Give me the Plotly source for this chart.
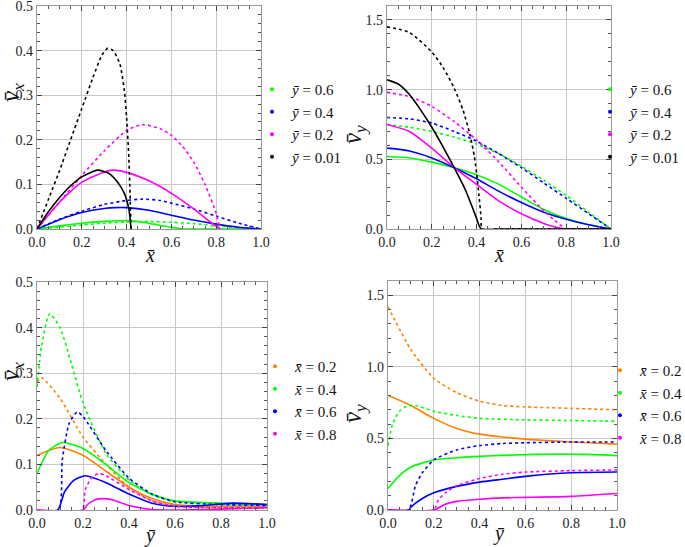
import plotly.graph_objects as go

W, H = 685, 547
GREEN, BLUE, MAGENTA, BLACK, ORANGE = "#00ff00", "#0000ff", "#ff00ff", "#000000", "#ff8000"

# ---------- Panel 1: v_x vs x̄ ----------
p1_leg = ["<i>ȳ</i> = 0.6", "<i>ȳ</i> = 0.4", "<i>ȳ</i> = 0.2", "<i>ȳ</i> = 0.01"]
p1_g_sol_x = [0, 0.1, 0.2, 0.3, 0.4, 0.45, 0.5, 0.55, 0.6, 0.65, 0.8, 1.0]
p1_g_sol_v = [0, 0.007, 0.013, 0.017, 0.019, 0.017, 0.013, 0.008, 0.004, 0.0, 0.0, 0.0]
p1_g_dot_x = [0, 0.1, 0.2, 0.3, 0.4, 0.5, 0.6, 0.7, 0.8, 0.9, 1.0]
p1_g_dot_v = [0, 0.004, 0.009, 0.013, 0.016, 0.017, 0.015, 0.012, 0.007, 0.003, 0]
p1_b_sol_x = [0, 0.1, 0.2, 0.3, 0.35, 0.4, 0.5, 0.6, 0.7, 0.8, 0.9, 1.0]
p1_b_sol_v = [0, 0.021, 0.037, 0.046, 0.048, 0.048, 0.042, 0.031, 0.020, 0.011, 0.004, 0]
p1_b_dot_x = [0, 0.1, 0.2, 0.3, 0.4, 0.47, 0.55, 0.6, 0.7, 0.8, 0.9, 1.0]
p1_b_dot_v = [0, 0.022, 0.040, 0.055, 0.064, 0.067, 0.064, 0.058, 0.045, 0.029, 0.013, 0]
p1_m_sol_x = [0, 0.1, 0.2, 0.3, 0.34, 0.4, 0.5, 0.6, 0.7, 0.75, 0.8, 0.82]
p1_m_sol_v = [0, 0.06, 0.105, 0.128, 0.132, 0.127, 0.108, 0.08, 0.045, 0.025, 0.006, 0]
p1_m_dot_x = [0, 0.1, 0.2, 0.3, 0.4, 0.47, 0.55, 0.6, 0.65, 0.7, 0.75, 0.8, 0.815]
p1_m_dot_v = [0, 0.06, 0.12, 0.175, 0.221, 0.234, 0.225, 0.21, 0.185, 0.15, 0.10, 0.035, 0]
p1_k_sol_x = [0, 0.05, 0.1, 0.15, 0.2, 0.27, 0.32, 0.36, 0.39, 0.41, 0.42]
p1_k_sol_v = [0, 0.038, 0.07, 0.097, 0.117, 0.132, 0.125, 0.105, 0.08, 0.045, 0]
p1_k_dot_x = [0, 0.05, 0.1, 0.15, 0.2, 0.25, 0.29, 0.315, 0.34, 0.37, 0.39, 0.40, 0.41, 0.42]
p1_k_dot_v = [0, 0.065, 0.13, 0.20, 0.27, 0.34, 0.39, 0.405, 0.40, 0.37, 0.31, 0.25, 0.16, 0]

# ---------- Panel 2: v_y vs x̄ ----------
p2_x = [0, 0.1, 0.2, 0.3, 0.4, 0.5, 0.6, 0.7, 0.8, 0.9, 1.0]
p2_g_sol_v = [0.52, 0.51, 0.48, 0.44, 0.39, 0.32, 0.23, 0.14, 0.075, 0.03, 0]
p2_g_dot_v = [0.75, 0.73, 0.70, 0.66, 0.61, 0.54, 0.45, 0.35, 0.24, 0.12, 0]
p2_b_sol_v = [0.58, 0.56, 0.51, 0.44, 0.36, 0.27, 0.19, 0.12, 0.07, 0.03, 0]
p2_b_dot_v = [0.80, 0.79, 0.76, 0.70, 0.63, 0.54, 0.44, 0.33, 0.22, 0.11, 0]
p2_m_x = [0, 0.1, 0.2, 0.3, 0.4, 0.5, 0.6, 0.7, 0.75, 0.8, 0.9, 1.0]
p2_m_sol_v = [0.75, 0.70, 0.58, 0.44, 0.32, 0.20, 0.11, 0.04, 0.015, 0.0, 0.0, 0.0]
p2_m_dot_v = [0.98, 0.95, 0.88, 0.77, 0.64, 0.48, 0.30, 0.13, 0.06, 0.0, 0.0, 0.0]
p2_k_sol_x = [0, 0.05, 0.1, 0.15, 0.2, 0.25, 0.3, 0.35, 0.38, 0.40, 0.42, 0.5, 0.7, 1.0]
p2_k_sol_v = [1.07, 1.04, 0.965, 0.855, 0.73, 0.59, 0.44, 0.28, 0.16, 0.075, 0.0, 0.0, 0.0, 0.0]
p2_k_dot_x = [0, 0.1, 0.2, 0.25, 0.3, 0.34, 0.37, 0.39, 0.40, 0.41, 0.42, 0.424, 0.5, 0.7, 1.0]
p2_k_dot_v = [1.45, 1.41, 1.27, 1.16, 1.01, 0.85, 0.68, 0.52, 0.40, 0.25, 0.08, 0.0, 0.0, 0.0, 0.0]

# ---------- Panel 3: v_x vs ȳ ----------
p3_leg = ["<i>x̄</i> = 0.2", "<i>x̄</i> = 0.4", "<i>x̄</i> = 0.6", "<i>x̄</i> = 0.8"]
p3_x = [0, 0.1, 0.2, 0.3, 0.4, 0.5, 0.6, 0.7, 0.8, 0.9, 1.0]
p3_o_sol_v = [0.12, 0.137, 0.12, 0.085, 0.05, 0.025, 0.012, 0.009, 0.008, 0.008, 0.008]
p3_o_dot_x = [0, 0.02, 0.1, 0.2, 0.3, 0.4, 0.5, 0.6, 0.7, 0.8, 0.9, 1.0]
p3_o_dot_v = [0.28, 0.29, 0.245, 0.16, 0.10, 0.05, 0.02, 0.01, 0.006, 0.005, 0.005, 0.005]
p3_g_sol_x = [0, 0.05, 0.11, 0.2, 0.3, 0.4, 0.5, 0.6, 0.7, 0.8, 0.9, 1.0]
p3_g_sol_v = [0.08, 0.13, 0.148, 0.135, 0.10, 0.06, 0.035, 0.02, 0.017, 0.015, 0.013, 0.012]
p3_g_dot_x = [0, 0.02, 0.055, 0.1, 0.15, 0.2, 0.3, 0.4, 0.5, 0.6, 0.7, 0.8, 0.9, 1.0]
p3_g_dot_v = [0.27, 0.36, 0.43, 0.40, 0.32, 0.235, 0.124, 0.066, 0.033, 0.018, 0.015, 0.012, 0.011, 0.01]
p3_b_sol_x = [0, 0.09, 0.12, 0.16, 0.21, 0.3, 0.4, 0.5, 0.6, 0.7, 0.85, 1.0]
p3_b_sol_v = [0, 0, 0.04, 0.065, 0.075, 0.06, 0.035, 0.015, 0.008, 0.009, 0.015, 0.012]
p3_b_dot_x = [0, 0.094, 0.11, 0.14, 0.175, 0.2, 0.3, 0.4, 0.5, 0.6, 0.8, 1.0]
p3_b_dot_v = [0, 0, 0.11, 0.19, 0.215, 0.205, 0.13, 0.07, 0.035, 0.018, 0.012, 0.01]
p3_m_sol_x = [0, 0.2, 0.22, 0.25, 0.28, 0.33, 0.4, 0.5, 0.6, 0.8, 1.0]
p3_m_sol_v = [0, 0, 0.012, 0.022, 0.025, 0.022, 0.01, 0.001, 0.0, 0.002, 0.005]
p3_m_dot_x = [0, 0.196, 0.21, 0.24, 0.27, 0.3, 0.4, 0.5, 0.6, 0.8, 1.0]
p3_m_dot_v = [0, 0, 0.045, 0.072, 0.08, 0.075, 0.045, 0.02, 0.008, 0.005, 0.005]

# ---------- Panel 4: v_y vs ȳ ----------
p4_x = [0, 0.1, 0.2, 0.3, 0.4, 0.5, 0.6, 0.7, 0.8, 0.9, 1.0]
p4_o_sol_v = [0.80, 0.73, 0.64, 0.57, 0.53, 0.51, 0.495, 0.485, 0.475, 0.468, 0.46]
p4_o_dot_v = [1.42, 1.12, 0.92, 0.82, 0.76, 0.73, 0.72, 0.715, 0.71, 0.705, 0.70]
p4_g_sol_x = [0, 0.05, 0.1, 0.2, 0.3, 0.4, 0.5, 0.6, 0.7, 0.8, 0.9, 1.0]
p4_g_sol_v = [0.15, 0.24, 0.30, 0.35, 0.365, 0.375, 0.382, 0.387, 0.39, 0.39, 0.387, 0.38]
p4_g_dot_x = [0, 0.02, 0.05, 0.08, 0.12, 0.2, 0.3, 0.4, 0.6, 0.8, 1.0]
p4_g_dot_v = [0.45, 0.60, 0.69, 0.725, 0.73, 0.69, 0.66, 0.64, 0.63, 0.625, 0.62]
p4_b_sol_x = [0, 0.09, 0.1, 0.15, 0.2, 0.3, 0.4, 0.5, 0.6, 0.8, 1.0]
p4_b_sol_v = [0, 0, 0.02, 0.08, 0.12, 0.165, 0.195, 0.215, 0.235, 0.26, 0.265]
p4_b_dot_x = [0, 0.09, 0.12, 0.15, 0.2, 0.3, 0.4, 0.5, 0.6, 0.8, 1.0]
p4_b_dot_v = [0, 0, 0.17, 0.26, 0.35, 0.42, 0.45, 0.465, 0.47, 0.475, 0.475]
p4_m_sol_x = [0, 0.2, 0.25, 0.3, 0.4, 0.5, 0.6, 0.8, 1.0]
p4_m_sol_v = [0, 0, 0.04, 0.06, 0.075, 0.085, 0.088, 0.095, 0.115]
p4_m_dot_x = [0, 0.2, 0.22, 0.25, 0.3, 0.4, 0.5, 0.6, 0.8, 1.0]
p4_m_dot_v = [0, 0, 0.07, 0.12, 0.17, 0.22, 0.25, 0.265, 0.275, 0.28]

fig = go.Figure()


def line(x, y, color, dotted, ax):
    fig.add_trace(go.Scatter(
        x=x, y=y, mode="lines", showlegend=False,
        line=dict(color=color, width=1.6, dash="dot" if dotted else "solid",
                  shape="spline", smoothing=0.6),
        xaxis="x" + ax, yaxis="y" + ax, cliponaxis=True))


def legend_entry(name, color, ax, leg):
    fig.add_trace(go.Scatter(
        x=[None], y=[None], mode="markers", name=name, legend=leg,
        marker=dict(color=color, size=4), xaxis="x" + ax, yaxis="y" + ax))


# panel 1
line(p1_g_sol_x, p1_g_sol_v, GREEN, False, "")
line(p1_g_dot_x, p1_g_dot_v, GREEN, True, "")
line(p1_b_sol_x, p1_b_sol_v, BLUE, False, "")
line(p1_b_dot_x, p1_b_dot_v, BLUE, True, "")
line(p1_m_sol_x, p1_m_sol_v, MAGENTA, False, "")
line(p1_m_dot_x, p1_m_dot_v, MAGENTA, True, "")
line(p1_k_sol_x, p1_k_sol_v, BLACK, False, "")
line(p1_k_dot_x, p1_k_dot_v, BLACK, True, "")
for n, c in zip(p1_leg, [GREEN, BLUE, MAGENTA, BLACK]):
    legend_entry(n, c, "", "legend")

# panel 2
line(p2_x, p2_g_sol_v, GREEN, False, "2")
line(p2_x, p2_g_dot_v, GREEN, True, "2")
line(p2_x, p2_b_sol_v, BLUE, False, "2")
line(p2_x, p2_b_dot_v, BLUE, True, "2")
line(p2_m_x, p2_m_sol_v, MAGENTA, False, "2")
line(p2_m_x, p2_m_dot_v, MAGENTA, True, "2")
line(p2_k_sol_x, p2_k_sol_v, BLACK, False, "2")
line(p2_k_dot_x, p2_k_dot_v, BLACK, True, "2")
for n, c in zip(p1_leg, [GREEN, BLUE, MAGENTA, BLACK]):
    legend_entry(n, c, "2", "legend2")

# panel 3
line(p3_x, p3_o_sol_v, ORANGE, False, "3")
line(p3_o_dot_x, p3_o_dot_v, ORANGE, True, "3")
line(p3_g_sol_x, p3_g_sol_v, GREEN, False, "3")
line(p3_g_dot_x, p3_g_dot_v, GREEN, True, "3")
line(p3_b_sol_x, p3_b_sol_v, BLUE, False, "3")
line(p3_b_dot_x, p3_b_dot_v, BLUE, True, "3")
line(p3_m_sol_x, p3_m_sol_v, MAGENTA, False, "3")
line(p3_m_dot_x, p3_m_dot_v, MAGENTA, True, "3")
for n, c in zip(p3_leg, [ORANGE, GREEN, BLUE, MAGENTA]):
    legend_entry(n, c, "3", "legend3")

# panel 4
line(p4_x, p4_o_sol_v, ORANGE, False, "4")
line(p4_x, p4_o_dot_v, ORANGE, True, "4")
line(p4_g_sol_x, p4_g_sol_v, GREEN, False, "4")
line(p4_g_dot_x, p4_g_dot_v, GREEN, True, "4")
line(p4_b_sol_x, p4_b_sol_v, BLUE, False, "4")
line(p4_b_dot_x, p4_b_dot_v, BLUE, True, "4")
line(p4_m_sol_x, p4_m_sol_v, MAGENTA, False, "4")
line(p4_m_dot_x, p4_m_dot_v, MAGENTA, True, "4")
for n, c in zip(p3_leg, [ORANGE, GREEN, BLUE, MAGENTA]):
    legend_entry(n, c, "4", "legend4")

SERIF = "Liberation Serif, Times New Roman, Times, serif"
TICKF = dict(family=SERIF, size=14, color="#222")


def xax(x0, x1, anchor):
    return dict(domain=[x0 / W, x1 / W], range=[0, 1], anchor=anchor,
                automargin=False, ticklabeloverflow="allow",
                tickvals=[0, 0.2, 0.4, 0.6, 0.8, 1.0], tickformat=".1f",
                ticks="inside", ticklen=5, tickcolor="#444", mirror="ticks",
                showline=True, linecolor="#9a9a9a", linewidth=1.2,
                showgrid=True, gridcolor="#c8c8c8", gridwidth=1, zeroline=False,
                minor=dict(ticks="inside", ticklen=3, dtick=0.05, tick0=0,
                           tickcolor="#555", showgrid=False),
                tickfont=TICKF, fixedrange=True)


def yax(y0, y1, anchor, ymax, dtick, mdtick):
    return dict(domain=[1 - y1 / H, 1 - y0 / H], range=[0, ymax], anchor=anchor,
                automargin=False, ticklabeloverflow="allow",
                dtick=dtick, tick0=0, tickformat=".1f",
                ticks="inside", ticklen=5, tickcolor="#444", mirror="ticks",
                showline=True, linecolor="#9a9a9a", linewidth=1.2,
                showgrid=True, gridcolor="#c8c8c8", gridwidth=1, zeroline=False,
                minor=dict(ticks="inside", ticklen=3, dtick=mdtick, tick0=0,
                           tickcolor="#555", showgrid=False),
                tickfont=TICKF, fixedrange=True)


def leg(x_px, y_px):
    return dict(x=x_px / W, y=1 - y_px / H, xanchor="left", yanchor="top",
                font=dict(family=SERIF, size=15, color="#111"),
                bgcolor="rgba(0,0,0,0)", borderwidth=0, itemwidth=30,
                tracegroupgap=0)


ann = []
YL = "<i>v̄</i><sub><i>x</i></sub>"
YL2 = "<i>v̄</i><sub><i>y</i></sub>"
for x, y, t in [(12, 93, YL), (354, 135, YL2), (12, 372, YL), (354, 414, YL2)]:
    ann.append(dict(x=x / W, y=1 - y / H, xref="paper", yref="paper", text=t,
                    textangle=-90, showarrow=False, xanchor="center", yanchor="middle",
                    font=dict(family=SERIF, size=25, color="#111")))
for x, y, t in [(150, 255, "<i>x̄</i>"), (499, 255, "<i>x̄</i>"),
                (150, 535, "<i>ȳ</i>"), (499, 533, "<i>ȳ</i>")]:
    ann.append(dict(x=x / W, y=1 - y / H, xref="paper", yref="paper", text=t,
                    showarrow=False, xanchor="center", yanchor="middle",
                    font=dict(family=SERIF, size=20, color="#111")))

fig.update_layout(
    width=W, height=H, margin=dict(l=0, r=0, t=0, b=0, autoexpand=False),
    paper_bgcolor="white", plot_bgcolor="white",
    font=dict(family=SERIF),
    xaxis=xax(37, 261, "y"), yaxis=yax(6, 229, "x", 0.5, 0.1, 0.02),
    xaxis2=xax(387, 611, "y2"), yaxis2=yax(6, 229, "x2", 1.6, 0.5, 0.1),
    xaxis3=xax(37, 267, "y3"), yaxis3=yax(282, 510, "x3", 0.5, 0.1, 0.02),
    xaxis4=xax(388, 617, "y4"), yaxis4=yax(281, 510, "x4", 1.6, 0.5, 0.1),
    legend=leg(252, 73), legend2=leg(590, 73),
    legend3=leg(255, 350), legend4=leg(600, 354),
    annotations=ann,
)

fig.write_html("out.html", config={"displayModeBar": False},
               post_script="document.body.style.margin='0px';"
                           "document.body.style.overflow='hidden';")
